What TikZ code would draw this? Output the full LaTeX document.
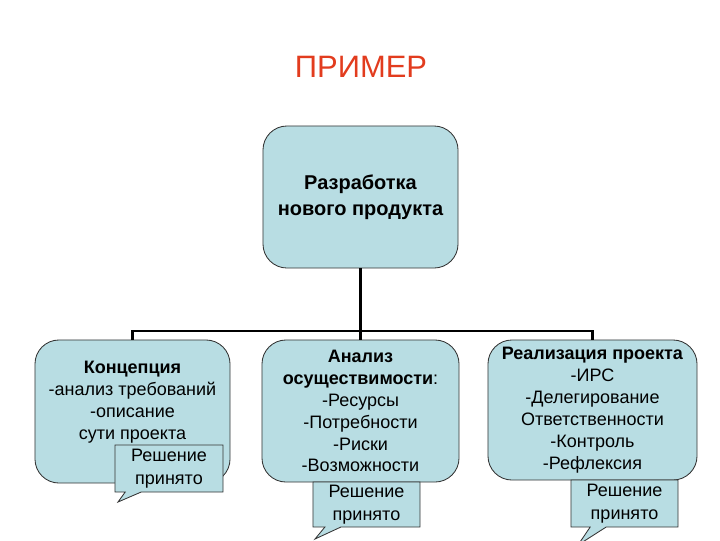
\documentclass[tikz,border=0pt]{standalone}
\usepackage{fontspec}
\setmainfont{Liberation Sans}
\usetikzlibrary{shapes.callouts}
\definecolor{boxfill}{RGB}{184,221,227}
\definecolor{titlered}{RGB}{226,60,30}
\tikzset{
  stage/.style={draw=black!80, line width=0.6pt, fill=boxfill, rounded corners=0.6cm,
    align=center, inner sep=2pt, font=\fontsize{12.8}{15.6}\selectfont},
  decision/.style={rectangle callout, draw=black!80, line width=0.6pt, fill=boxfill,
    align=center, inner sep=1pt, callout pointer width=0.4cm,
    font=\fontsize{12.8}{16.3}\selectfont},
  conn/.style={line width=1.5pt, black}
}
\begin{document}
\begin{tikzpicture}[x=0.025cm, y=-0.025cm]
			\useasboundingbox (0,0) rectangle (720,540);
			\node[text=titlered, font=\fontsize{22}{26}\selectfont] (title) at (361,67) {ПРИМЕР};
			% upper level
			\node[stage, minimum width=4.875cm, minimum height=3.55cm,
			  font=\fontsize{14.2}{18.4}\selectfont\bfseries] (top) at (360.5,197)
			  {Разработка\\нового продукта};
			% lower level
			\node[stage, minimum width=4.875cm, minimum height=3.575cm] (left) at (132.5,411.5)
			  {\textbf{Концепция}\\-анализ требований\\-описание\\сути проекта\\~};
			\node[stage, minimum width=4.925cm, minimum height=3.55cm] (mid) at (360.5,411)
			  {\textbf{Анализ}\\\textbf{осуществимости}:\\-Ресурсы\\-Потребности\\-Риски\\-Возможности};
			\node[stage, minimum width=5.225cm, minimum height=3.5cm] (right) at (592.5,410)
			  {\textbf{Реализация проекта}\\-ИРС\\-Делегирование\\Ответственности\\-Контроль\\-Рефлексия};
			\coordinate (bus) at (360.5,331);
			\draw[conn] (top.south) -- (mid.north);
			\draw[conn] (left.north) |- (bus) -| (right.north);
			% decisions
			\node[decision, minimum width=2.7cm, minimum height=1.175cm,
			  callout absolute pointer={(118,502)}] (dec1) at (169,468.5) {Решение\\принято};
			\node[decision, minimum width=2.675cm, minimum height=1.125cm,
			  callout absolute pointer={(315,539)}] (dec2) at (366.5,504.5) {Решение\\принято};
			\node[decision, minimum width=2.675cm, minimum height=1.175cm,
			  callout absolute pointer={(578,545)}] (dec3) at (624.5,503.5) {Решение\\принято};
\end{tikzpicture}
\end{document}
